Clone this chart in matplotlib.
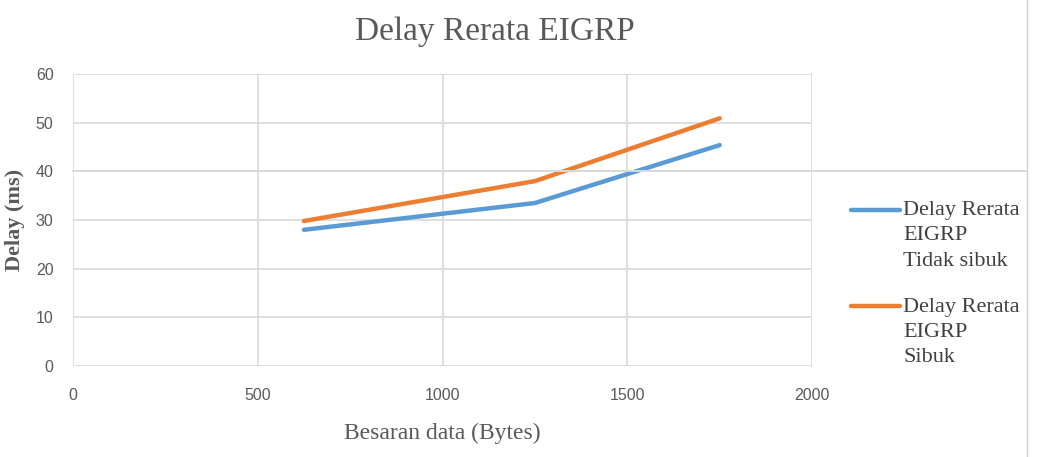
import matplotlib.pyplot as plt
from matplotlib.lines import Line2D

# data
data_size = [625, 1250, 1750]
delay_tidak_sibuk = [28.0, 33.5, 45.4]
delay_sibuk = [29.8, 38.0, 50.9]
series_labels = ["Delay Rerata\nEIGRP\nTidak sibuk", "Delay Rerata\nEIGRP\nSibuk"]
series_colors = ["#5b9bd5", "#ed7d31"]

serif = "Liberation Serif"
fig = plt.figure(figsize=(10.44, 4.57), dpi=100)
ax = fig.add_axes([0.0699, 0.199, 0.708, 0.639])

ax.plot(data_size, delay_tidak_sibuk, color=series_colors[0], lw=3.2, solid_capstyle="round")
ax.plot(data_size, delay_sibuk, color=series_colors[1], lw=3.2, solid_capstyle="round")

ax.set_xlim(0, 2000)
ax.set_ylim(0, 60)
ax.set_xticks(range(0, 2001, 500))
ax.set_yticks(range(0, 61, 10))
ax.grid(True, color="#d9d9d9", lw=1.2)
ax.set_axisbelow(True)
for s in ax.spines.values():
    s.set_visible(False)
ax.tick_params(length=0, labelsize=11.5, labelcolor="#595959")
ax.tick_params(axis="x", pad=16)
ax.tick_params(axis="y", pad=14)
for lab in ax.get_xticklabels() + ax.get_yticklabels():
    lab.set_family("Liberation Sans")

ax.set_xlabel("Besaran data (Bytes)", family=serif, fontsize=17, color="#595959", labelpad=14)
ax.set_ylabel("Delay (ms)", family=serif, fontsize=16, color="#595959", fontweight="bold", labelpad=8)
fig.text(0.474, 0.93, "Delay Rerata EIGRP", family=serif, fontsize=24, color="#595959",
         ha="center", va="center")

# legend drawn by hand so the line sits at the first text line
legend_y = [0.541, 0.330]
for lab, col, y in zip(series_labels, series_colors, legend_y):
    fig.add_artist(Line2D([0.815, 0.862], [y, y], color=col, lw=3.2,
                          solid_capstyle="round", transform=fig.transFigure))
    fig.text(0.865, y + 0.019, lab, family=serif, fontsize=16, color="#404040",
             ha="left", va="top", linespacing=1.45)

# long gridline and right edge artifacts of the screenshot
y40 = ax.transData.transform((0, 40))[1] / fig.dpi / fig.get_figheight()
fig.add_artist(Line2D([0.0699, 0.983], [y40, y40], color="#d9d9d9", lw=1.4,
                      transform=fig.transFigure))
fig.add_artist(Line2D([0.984, 0.984], [0, 1], color="#d0d0d0", lw=1.0,
                      transform=fig.transFigure))

fig.savefig("out.png", dpi=100)
